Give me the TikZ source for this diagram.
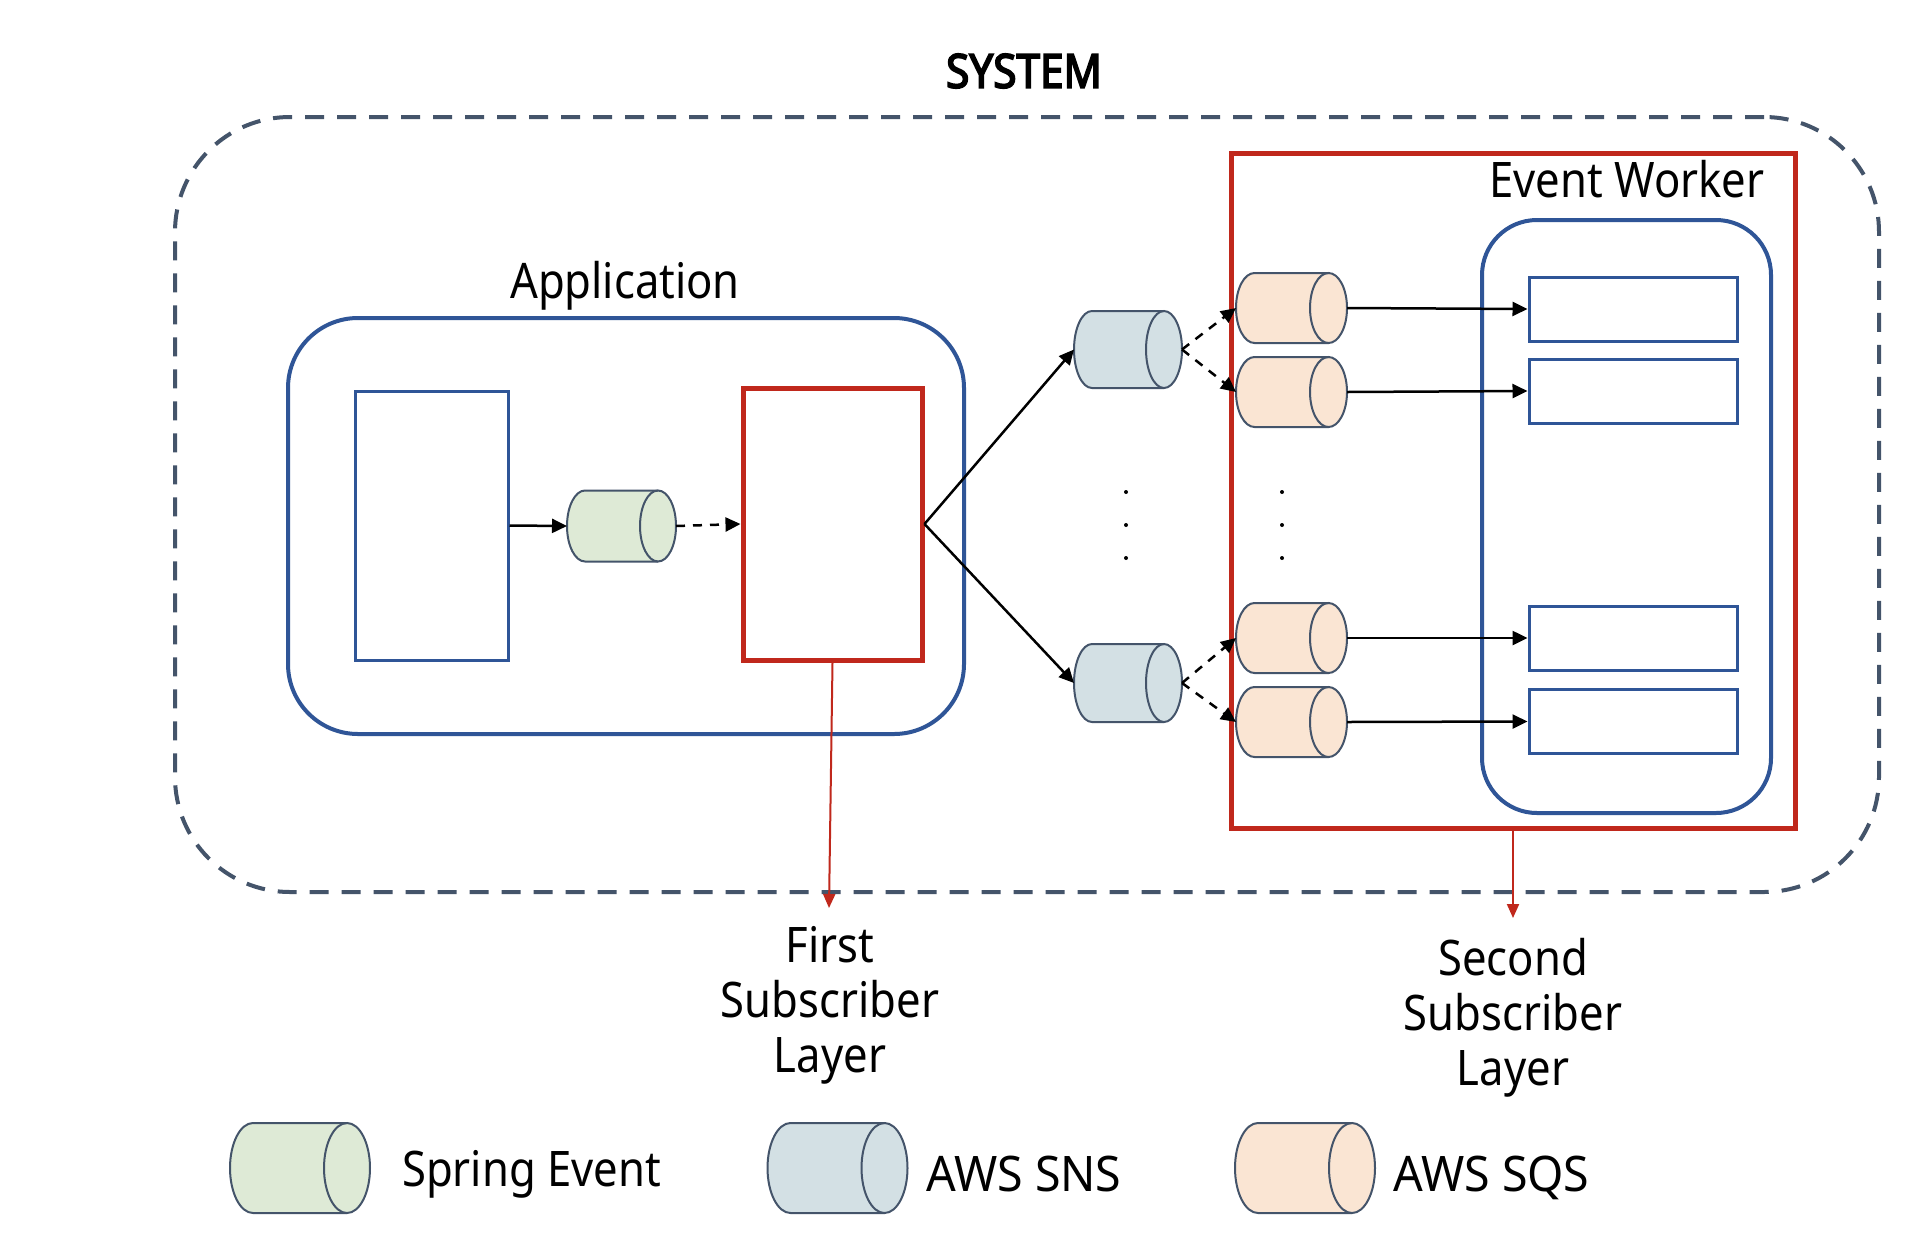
\documentclass[tikz,border=0pt]{standalone}
\usepackage{fontspec}
\setmainfont{Noto Sans}[FakeStretch=0.89]
\newfontfamily\titlefont{Noto Sans}[FakeStretch=0.9, FakeBold=3.5]
\newfontfamily\widefont{Noto Sans}[FakeStretch=0.95]
\usetikzlibrary{arrows.meta,calc}

\definecolor{slate}{HTML}{44546A}
\definecolor{frameblue}{HTML}{2F5597}
\definecolor{layerred}{HTML}{C0281C}
\definecolor{springfill}{HTML}{DEEAD6}
\definecolor{snsfill}{HTML}{D3E0E4}
\definecolor{sqsfill}{HTML}{FAE5D3}

\tikzset{
  sysframe/.style={draw=slate, line width=4pt, dash pattern=on 19pt off 13pt,
    rounded corners=115pt, inner sep=0},
  appframe/.style={draw=frameblue, line width=4pt, rounded corners=70pt, inner sep=0},
  workerframe/.style={draw=frameblue, line width=4pt, rounded corners=55pt, inner sep=0},
  comp/.style={draw=frameblue, line width=3pt, inner sep=0},
  layerbox/.style={draw=layerred, line width=5pt, inner sep=0},
  drumbox/.style={inner sep=0, outer sep=0},
  drumline/.style={draw=slate, line width=2pt},
  flow/.style={black, line width=2.5pt, -{Triangle[length=15pt,width=14pt]}},
  async/.style={flow, dash pattern=on 9pt off 8pt},
  layerptr/.style={layerred, line width=2pt, -{Triangle[length=14pt,width=12pt]}},
  gapdot/.style={circle, fill=black, minimum size=4pt, inner sep=0},
  label/.style={inner sep=0},
}

% horizontal drum: name, cx, cy, width, height, end x-radius, fill
\newcommand{\qdrum}[7]{%
  \node[drumbox, minimum width=#4pt, minimum height=#5pt] (#1) at (#2,#3) {};
  \pgfmathsetmacro\qdry{#5/2}%
  \path[fill=#7] ([xshift=#6pt]#1.north west)
    arc[start angle=90, end angle=270, x radius=#6pt, y radius=\qdry pt]
    -- ([xshift=-#6pt]#1.south east)
    arc[start angle=-90, end angle=90, x radius=#6pt, y radius=\qdry pt] -- cycle;
  \draw[drumline] ([xshift=-#6pt]#1.north east) -- ([xshift=#6pt]#1.north west)
    arc[start angle=90, end angle=270, x radius=#6pt, y radius=\qdry pt]
    -- ([xshift=-#6pt]#1.south east);
  \draw[drumline] ([xshift=-#6pt]#1.east) ellipse[x radius=#6pt, y radius=\qdry pt];
}

\begin{document}
\begin{tikzpicture}[x=1pt, y=-1pt, font=\fontsize{49}{55}\selectfont]
\useasboundingbox[fill=white] (0,0) rectangle (1924,1232);

% system boundary
\node[label, font=\titlefont\fontsize{47}{55}\selectfont] (systitle) at (1024,71) {SYSTEM};
\node[sysframe, minimum width=1704pt, minimum height=775pt] (system) at (1027,504.5) {};

% application
\node[label, anchor=base] (applabel) at (625,298) {Application};
\node[appframe, minimum width=676pt, minimum height=416pt] (app) at (626,526) {};
\node[comp, minimum width=153pt, minimum height=269pt] (publisher) at (431.5,525.5) {};
\node[layerbox, minimum width=179pt, minimum height=272pt] (listener) at (832.5,524) {};
\qdrum{spring}{621.5}{526}{109}{71}{18}{springfill}

% event worker
\node[layerbox, minimum width=564pt, minimum height=675pt] (worker) at (1513,490.5) {};
\node[label, anchor=base] (workerlabel) at (1627,197) {Event Worker};
\node[workerframe, minimum width=289pt, minimum height=593pt] (workerin) at (1626.5,516.5) {};
\node[comp, minimum width=208pt, minimum height=64pt] (h1) at (1633,309) {};
\node[comp, minimum width=208pt, minimum height=64pt] (h2) at (1633,391) {};
\node[comp, minimum width=208pt, minimum height=64pt] (h3) at (1633,638) {};
\node[comp, minimum width=208pt, minimum height=64pt] (h4) at (1633,721.5) {};

% topics and queues
\qdrum{snsA}{1128}{349.5}{108}{77}{18}{snsfill}
\qdrum{snsB}{1128}{683}{108}{78}{18}{snsfill}
\qdrum{q1}{1291.5}{308}{111}{70}{18.5}{sqsfill}
\qdrum{q2}{1291.5}{392}{111}{70}{18.5}{sqsfill}
\qdrum{q3}{1291.5}{638}{111}{70}{18.5}{sqsfill}
\qdrum{q4}{1291.5}{722}{111}{70}{18.5}{sqsfill}

% elision dots
\node[gapdot] (da1) at (1126,492) {};
\node[gapdot] (da2) at (1126,525) {};
\node[gapdot] (da3) at (1126,558) {};
\node[gapdot] (db1) at (1282,492) {};
\node[gapdot] (db2) at (1282,525) {};
\node[gapdot] (db3) at (1282,558) {};

% message flow
\draw[flow] (publisher.east) -- (spring.west);
\draw[async] (spring.east) -- (listener.west);
\draw[flow] (listener.east) -- (snsA.west);
\draw[flow] (listener.east) -- (snsB.west);
\draw[async] (snsA.east) -- (q1.west);
\draw[async] (snsA.east) -- (q2.west);
\draw[async] (snsB.east) -- (q3.west);
\draw[async] (snsB.east) -- (q4.west);
\draw[flow] (q1.east) -- (h1.west);
\draw[flow] (q2.east) -- (h2.west);
\draw[flow] (q3.east) -- (h3.west);
\draw[flow] (q4.east) -- (h4.west);

% layer captions
\coordinate (firsttip) at (829,908);
\coordinate (secondtip) at (1513,918);
\draw[layerptr] (listener.south) -- (firsttip);
\draw[layerptr] (worker.south) -- (secondtip);
\node[label, align=center, anchor=north] (firstlayer) at (830,926) {First\\Subscriber\\Layer};
\node[label, align=center, anchor=north] (secondlayer) at (1513,938) {Second\\Subscriber\\Layer};

% legend
\qdrum{legspring}{300}{1168}{140}{90}{23}{springfill}
\qdrum{legsns}{837.5}{1168}{140}{90}{23}{snsfill}
\qdrum{legsqs}{1305}{1168}{140}{90}{23}{sqsfill}
\node[label, anchor=base west] (legspringtext) at (402,1186) {Spring Event};
\node[label, anchor=base west, font=\widefont\fontsize{49}{55}\selectfont] (legsnstext) at (926,1191) {AWS SNS};
\node[label, anchor=base west, font=\widefont\fontsize{49}{55}\selectfont] (legsqstext) at (1393,1191) {AWS SQS};
\end{tikzpicture}
\end{document}
